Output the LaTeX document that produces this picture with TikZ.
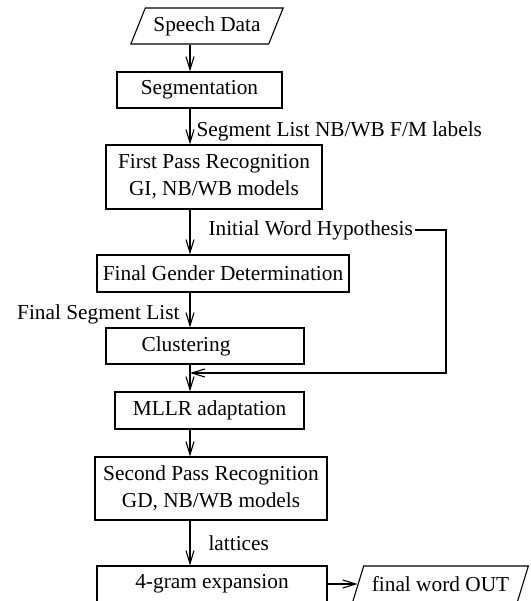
\documentclass[tikz,border=0pt]{standalone}
\usepackage{fontspec}
\setmainfont{Liberation Serif}
\usepackage{tikz}
\usetikzlibrary{arrows.meta,shapes.geometric}

\begin{document}
\begin{tikzpicture}[x=0.5bp, y=-0.5bp, >={Straight Barb[length=6.5bp,width=4bp]},
    line width=0.55bp, font=\fontsize{10.7}{13.5}\selectfont,
    box/.style={draw, rectangle, align=center, inner sep=0pt},
    iobox/.style={draw, trapezium, trapezium left angle=57, trapezium right angle=123,
        trapezium stretches=true, inner sep=0pt},
    lbl/.style={inner sep=1bp}]
    \useasboundingbox (0,0) rectangle (531,601);
    \coordinate (axis) at (190,0);
    \node[iobox, minimum width=76.5bp, minimum height=18bp] at (207,26) (data) {Speech Data};
    \node[box, minimum width=82.5bp, minimum height=18bp] at (199.5,90) (seg) {Segmentation};
    \node[box, minimum width=108bp, minimum height=32bp] at (214,177) (first)
        {First Pass Recognition\\GI, NB/WB models};
    \node[box, minimum width=126bp, minimum height=18.5bp] at (223,273.5) (gender)
        {Final Gender Determination};
    \node[box, minimum width=99bp, minimum height=18bp] at (205,346) (clust)
        {\hspace*{-19bp}Clustering};
    \node[box, minimum width=94.5bp, minimum height=18.5bp] at (209.5,410.5) (mllr)
        {MLLR adaptation};
    \node[box, minimum width=116bp, minimum height=31.5bp] at (211,488.5) (second)
        {Second Pass Recognition\\GD, NB/WB models};
    \node[box, minimum width=115bp, minimum height=18bp] at (212,584) (gram) {4-gram expansion};
    \node[iobox, minimum width=88.5bp, minimum height=18bp] at (440.5,584) (out) {final word OUT};
    \coordinate (join) at (190,373);
    \coordinate (fb) at (446,373);

    \draw [->] (data.south -| axis) -- (seg.north -| axis);
    \draw [->] (seg.south -| axis) -- (first.north -| axis)
    node [lbl, right, midway, xshift=2bp, yshift=-2.5bp] {Segment List NB/WB F/M labels};
    \draw [->] (first.south -| axis) -- (gender.north -| axis)
    node [lbl, right, midway, xshift=8bp, yshift=1bp] (hyp) {Initial Word Hypothesis};
    \draw [->] (hyp.east) -| (fb) -- (join);
    \draw [->] (gender.south -| axis) -- (clust.north -| axis)
    node [lbl, left, midway, xshift=-4bp, yshift=-2bp] {Final Segment List};
    \draw [->] (clust.south -| axis) -- (mllr.north -| axis);
    \draw [->] (mllr.south -| axis) -- (second.north -| axis);
    \draw [->] (second.south -| axis) -- (gram.north -| axis)
    node [lbl, right, midway, xshift=8bp] {lattices};
    \draw [->] (gram.east) -- (out);
  \end{tikzpicture}
\end{document}
